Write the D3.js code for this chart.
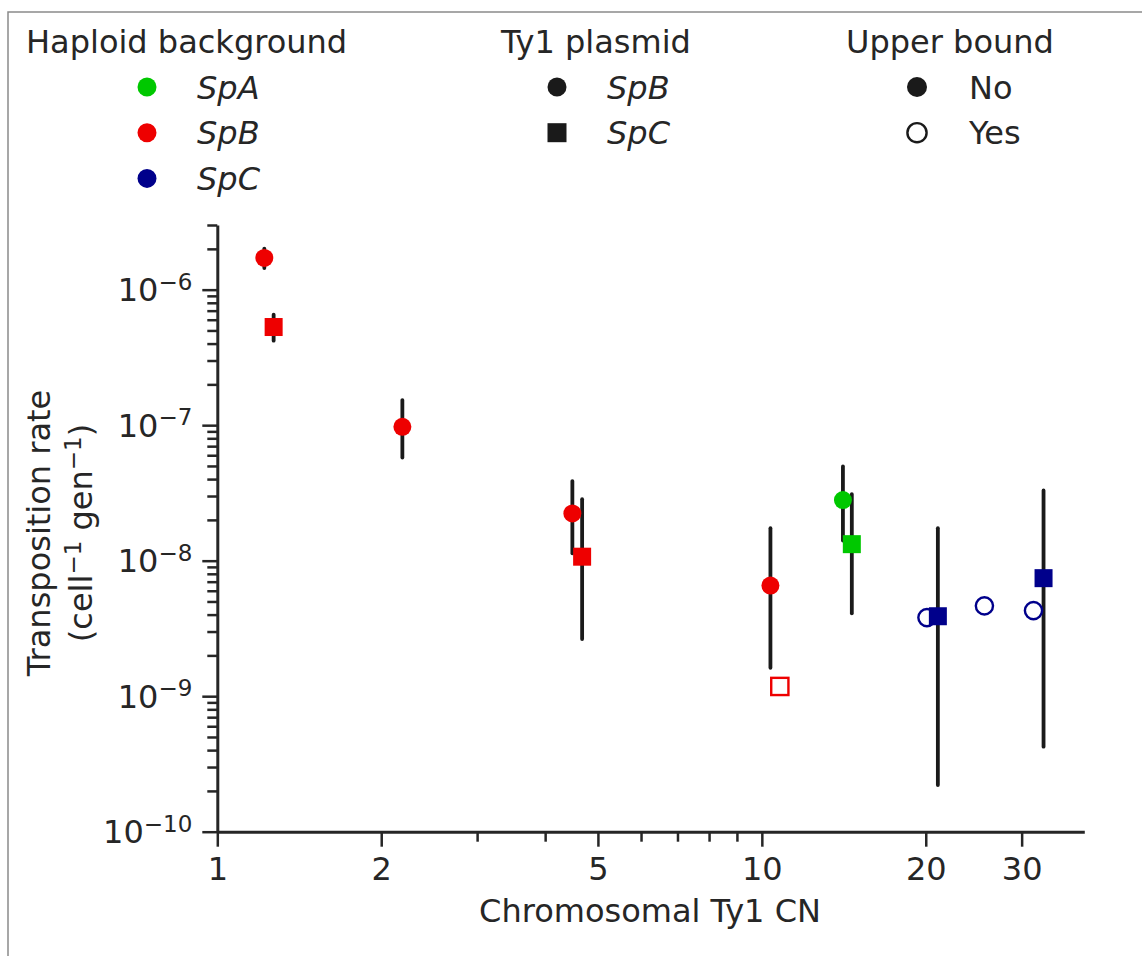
<!DOCTYPE html>
<html>
<head>
<meta charset="utf-8">
<script src="https://cdnjs.cloudflare.com/ajax/libs/d3/7.8.5/d3.min.js"></script>
<style>
    body { margin: 0; background: #fff; }
    text { font-family: "DejaVu Sans", sans-serif; fill: #262626; }
</style>
</head>
<body>
<div id="svgcontainer"></div>
<script>
// chromosomal Ty1 copy number and transposition rate per strain
var copyNumber = [1.22, 1.269, 2.187, 4.488, 4.677, 10.37, 10.79, 14.09, 14.63, 20.10, 21.05, 25.63, 31.54, 32.91];
var rate = [1.714e-6, 5.30e-7, 9.73e-8, 2.23e-8, 1.07e-8, 6.55e-9, 1.18e-9, 2.80e-8, 1.324e-8, 3.80e-9, 3.89e-9, 4.64e-9, 4.28e-9, 7.43e-9];
var rateLow = [1.445e-6, 4.20e-7, 5.77e-8, 1.135e-8, 2.64e-9, 1.62e-9, null, 1.408e-8, 4.09e-9, null, 2.21e-10, null, null, 4.24e-10];
var rateHigh = [2.01e-6, 6.54e-7, 1.532e-7, 3.87e-8, 2.84e-8, 1.738e-8, null, 4.96e-8, 3.10e-8, null, 1.738e-8, null, null, 3.30e-8];
var background = ["SpB", "SpB", "SpB", "SpB", "SpB", "SpB", "SpB", "SpA", "SpA", "SpC", "SpC", "SpC", "SpC", "SpC"];
var plasmid = ["SpB", "SpC", "SpB", "SpB", "SpC", "SpB", "SpC", "SpB", "SpC", "SpB", "SpC", "SpB", "SpB", "SpC"];
var upperBound = [false, false, false, false, false, false, true, false, false, true, false, true, true, false];

var backgrounds = ["SpA", "SpB", "SpC"];
var plasmids = ["SpB", "SpC"];
var boundLabels = ["No", "Yes"];

var xTicks = [1, 2, 5, 10, 20, 30];
var xMinorTicks = [3, 4, 6, 7, 8, 9];
var yTicks = [1e-10, 1e-9, 1e-8, 1e-7, 1e-6];

var width = 1142;
var height = 956;
var AXIS = "#262626";
var FONT = 32;
var SUP = 23;

var points = copyNumber.map(function (d, i) {
    return {
        cn: d, rate: rate[i], lo: rateLow[i], hi: rateHigh[i],
        bg: background[i], plasmid: plasmid[i], upper: upperBound[i]
    };
});

var color = d3.scaleOrdinal().domain(backgrounds).range(["#00c800", "#ee0000", "#00008b"]);

var x = d3.scaleLog().domain([1, 39.1]).range([217.3, 1084.3]);
var y = d3.scaleLog().domain([1e-10, 3e-6]).range([831.7, 225]);

var svg = d3.select("#svgcontainer")
    .append("svg").attr("width", width).attr("height", height);

svg.append("rect")
    .attr("x", 8).attr("y", 12)
    .attr("width", 1300).attr("height", 1100)
    .attr("fill", "none")
    .attr("stroke", "#8a8a8a")
    .attr("stroke-width", 1.5);

/**
 * Axes
 */

var gx = svg.append("g").attr("transform", "translate(0," + y.range()[0] + ")");
gx.call(d3.axisBottom(x).tickValues(xTicks).tickFormat(d3.format("d"))
    .tickSize(15).tickSizeOuter(0).tickPadding(11));
gx.append("g").call(d3.axisBottom(x).tickValues(xMinorTicks).tickFormat("").tickSize(10).tickSizeOuter(0));

var gy = svg.append("g").attr("transform", "translate(" + x.range()[0] + ",0)");
gy.call(d3.axisLeft(y).tickValues(yTicks).tickFormat("").tickSize(15).tickSizeOuter(0));

var yMinor = [];
for (var e = -10; e <= -6; e++) {
    for (var m = 2; m <= 9; m++) {
        var v = m * Math.pow(10, e);
        if (v <= y.domain()[1] * 1.0001) yMinor.push(v);
    }
}
gy.append("g").call(d3.axisLeft(y).tickValues(yMinor).tickFormat("").tickSize(10).tickSizeOuter(0));

[gx, gy].forEach(function (g) {
    g.selectAll(".domain").attr("stroke", AXIS).attr("stroke-width", 3);
    g.selectAll("g > g > .domain").remove();
    g.selectAll("line").attr("stroke", AXIS).attr("stroke-width", 2.5);
    g.selectAll("text").style("font-size", FONT + "px").attr("fill", AXIS);
});

// y tick labels as 10 with a superscript exponent
yTicks.forEach(function (t) {
    var label = gy.append("text")
        .attr("x", -25)
        .attr("y", y(t))
        .attr("dy", "0.36em")
        .attr("text-anchor", "end")
        .style("font-size", FONT + "px");
    label.append("tspan").text("10");
    label.append("tspan")
        .attr("dy", -11.5)
        .style("font-size", SUP + "px")
        .text("\u2212" + Math.round(-Math.log10(t)));
});

svg.append("text")
    .attr("x", 650)
    .attr("y", 921.7)
    .attr("text-anchor", "middle")
    .style("font-size", FONT + "px")
    .text("Chromosomal Ty1 CN");

var ylab = svg.append("g").attr("transform", "translate(0,533) rotate(-90)");
ylab.append("text")
    .attr("x", 0).attr("y", 50)
    .attr("text-anchor", "middle")
    .style("font-size", FONT + "px")
    .text("Transposition rate");
var unit = ylab.append("text")
    .attr("x", 0).attr("y", 92)
    .attr("text-anchor", "middle")
    .style("font-size", FONT + "px");
unit.append("tspan").text("(cell");
unit.append("tspan").attr("dy", -11.5).style("font-size", SUP + "px").text("\u22121");
unit.append("tspan").attr("dy", 11.5).text(" gen");
unit.append("tspan").attr("dy", -11.5).style("font-size", SUP + "px").text("\u22121");
unit.append("tspan").attr("dy", 11.5).text(")");

/**
 * Points
 */

svg.append("g").selectAll("line")
    .data(points.filter(function (d) { return d.lo !== null; }))
    .enter().append("line")
    .attr("x1", function (d) { return x(d.cn); })
    .attr("x2", function (d) { return x(d.cn); })
    .attr("y1", function (d) { return y(d.lo); })
    .attr("y2", function (d) { return y(d.hi); })
    .attr("stroke", "#1a1a1a")
    .attr("stroke-width", 3.8)
    .attr("stroke-linecap", "round");

function drawMarker(g, shape, open, fill, size) {
    var r = size / 2;
    if (open) r -= 0.4;
    var m;
    if (shape === "SpB") {
        m = g.append("circle").attr("r", r);
    } else {
        m = g.append("rect")
            .attr("x", -r).attr("y", -r)
            .attr("width", r * 2).attr("height", r * 2);
    }
    if (open) {
        m.attr("fill", "#fff").attr("stroke", fill).attr("stroke-width", 2.4);
    } else {
        m.attr("fill", fill);
    }
    return m;
}

var sorted = points.slice().sort(function (a, b) { return (b.upper ? 1 : 0) - (a.upper ? 1 : 0); });
svg.append("g").selectAll("g")
    .data(sorted)
    .enter().append("g")
    .attr("transform", function (d) { return "translate(" + x(d.cn) + "," + y(d.rate) + ")"; })
    .each(function (d) {
        drawMarker(d3.select(this), d.plasmid, d.upper, color(d.bg), 18);
    });

/**
 * Legend
 */

var rowY = function (i) { return 87 + i * 45.7; };

function legendTitle(tx, label) {
    svg.append("text")
        .attr("x", tx).attr("y", 53)
        .style("font-size", FONT + "px")
        .text(label);
}

legendTitle(26, "Haploid background");
backgrounds.forEach(function (b, i) {
    var g = svg.append("g").attr("transform", "translate(147," + rowY(i) + ")");
    drawMarker(g, "SpB", false, color(b), 19);
    svg.append("text")
        .attr("x", 197).attr("y", rowY(i) + 11.5)
        .style("font-size", FONT + "px")
        .style("font-style", "italic")
        .text(b);
});

legendTitle(501, "Ty1 plasmid");
plasmids.forEach(function (p, i) {
    var g = svg.append("g").attr("transform", "translate(557," + rowY(i) + ")");
    drawMarker(g, p, false, "#1a1a1a", 19);
    svg.append("text")
        .attr("x", 607).attr("y", rowY(i) + 11.5)
        .style("font-size", FONT + "px")
        .style("font-style", "italic")
        .text(p);
});

legendTitle(846, "Upper bound");
boundLabels.forEach(function (l, i) {
    var g = svg.append("g").attr("transform", "translate(917," + rowY(i) + ")");
    drawMarker(g, "SpB", l === "Yes", "#1a1a1a", 20);
    svg.append("text")
        .attr("x", 969).attr("y", rowY(i) + 11.5)
        .style("font-size", FONT + "px")
        .text(l);
});
</script>
</body>
</html>
